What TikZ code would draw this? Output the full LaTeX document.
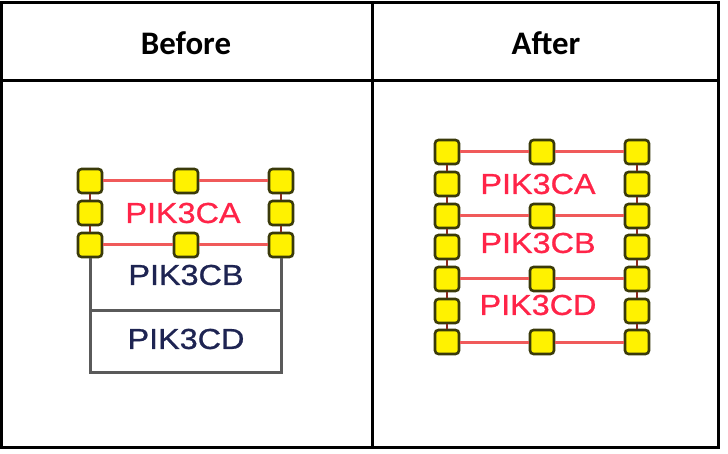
\documentclass[tikz,border=0pt]{standalone}
\usepackage{fontspec}
\setmainfont{Liberation Sans}
\newfontfamily\headfont{Carlito}
\newfontfamily\genefont[FakeStretch=1.12,FakeBold=0.8]{Liberation Sans}
\definecolor{bondred}{HTML}{F05A5A}
\definecolor{linkred}{HTML}{8C2A1E}
\definecolor{genered}{HTML}{FF2448}
\definecolor{geneblue}{HTML}{1E2452}
\definecolor{handleedge}{HTML}{3A3A0A}
\definecolor{framegray}{HTML}{5A5A5A}
\tikzset{
  handle/.style={draw=handleedge,fill=yellow,line width=2.6bp,rounded corners=3.5bp,minimum size=24bp,inner sep=0pt},
  bond/.style={bondred,line width=3bp},
  link/.style={linkred,line width=2.4bp},
  cellframe/.style={framegray,line width=3bp},
  gene/.style={inner sep=0pt,font=\genefont\fontsize{29}{30}\selectfont},
  head/.style={inner sep=0pt,font=\headfont\bfseries\fontsize{33}{36}\selectfont}
}
\begin{document}
\begin{tikzpicture}[x=1bp,y=-1bp]
\useasboundingbox (0,0) rectangle (728,454);
% table
\draw[line width=3bp] (1.5,2.5) rectangle (718.5,447);
\draw[line width=3bp] (1.5,81) -- (718.5,81);
\draw[line width=3bp] (372.5,2.5) -- (372.5,447);
\node[head] (before) at (186,43) {Before};
\node[head] (after) at (546,43) {After};
% before
\node[handle] (bl1) at (90,181) {};
\node[handle] (bm1) at (186,181) {};
\node[handle] (br1) at (281,181) {};
\node[handle] (bl2) at (90,213) {};
\node[handle] (br2) at (281,213) {};
\node[handle] (bl3) at (90,245) {};
\node[handle] (bm3) at (186,245) {};
\node[handle] (br3) at (281,245) {};
\draw[bond] (bl1) -- (bm1) -- (br1);
\draw[bond] (bl3) -- (bm3) -- (br3);
\draw[link] (bl1) -- (bl2) -- (bl3);
\draw[link] (br1) -- (br2) -- (br3);
\coordinate (bmid-l) at (90,311);
\coordinate (bmid-r) at (281,311);
\coordinate (bfoot-l) at (90,372);
\coordinate (bfoot-r) at (281,372);
\draw[cellframe] (bl3) -- (bfoot-l) -- (bfoot-r) -- (br3);
\draw[cellframe] (bmid-l) -- (bmid-r);
\node[gene,text=genered] (b-ca) at (183,213) {PIK3CA};
\node[gene,text=geneblue] (b-cb) at (186,275) {PIK3CB};
\node[gene,text=geneblue] (b-cd) at (186,339) {PIK3CD};
% after
\node[handle] (al1) at (447,152) {};
\node[handle] (am1) at (542,152) {};
\node[handle] (ar1) at (637,152) {};
\node[handle] (al2) at (447,184) {};
\node[handle] (ar2) at (637,184) {};
\node[handle] (al3) at (447,216) {};
\node[handle] (am3) at (542,216) {};
\node[handle] (ar3) at (637,216) {};
\node[handle] (al4) at (447,247) {};
\node[handle] (ar4) at (637,247) {};
\node[handle] (al5) at (447,279) {};
\node[handle] (am5) at (542,279) {};
\node[handle] (ar5) at (637,279) {};
\node[handle] (al6) at (447,311) {};
\node[handle] (ar6) at (637,311) {};
\node[handle] (al7) at (447,342) {};
\node[handle] (am7) at (542,342) {};
\node[handle] (ar7) at (637,342) {};
\draw[bond] (al1) -- (am1) -- (ar1);
\draw[bond] (al3) -- (am3) -- (ar3);
\draw[bond] (al5) -- (am5) -- (ar5);
\draw[bond] (al7) -- (am7) -- (ar7);
\draw[link] (al1) -- (al2) -- (al3) -- (al4) -- (al5) -- (al6) -- (al7);
\draw[link] (ar1) -- (ar2) -- (ar3) -- (ar4) -- (ar5) -- (ar6) -- (ar7);
\node[gene,text=genered] (a-ca) at (538,184) {PIK3CA};
\node[gene,text=genered] (a-cb) at (538,243) {PIK3CB};
\node[gene,text=genered] (a-cd) at (538,305) {PIK3CD};
\end{tikzpicture}
\end{document}
